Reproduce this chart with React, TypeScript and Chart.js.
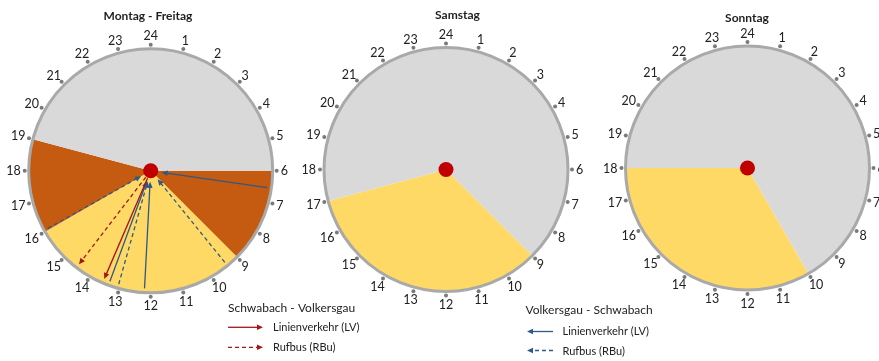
import React, { useEffect, useRef } from "react";
import { Chart, registerables } from "chart.js";

Chart.register(...registerables);

// ---------- data ----------
const hourLabels = ["24", "1", "2", "3", "4", "5", "6", "7", "8", "9", "10", "11", "12", "13", "14", "15", "16", "17", "18", "19", "20", "21", "22", "23"];

// Montag - Freitag: segments starting at 6 o'clock
const mfTitle = "Montag - Freitag";
const mfStartHour = 6;
const mfSegmentHours = [3, 7, 3, 11];
const mfSegmentKinds = ["HVZ", "NVZ", "HVZ", "SVZ"];

// Samstag
const saTitle = "Samstag";
const saStartHour = 9;
const saSegmentHours = [8, 16];
const saSegmentKinds = ["NVZ", "SVZ"];

// Sonntag
const soTitle = "Sonntag";
const soStartHour = 10;
const soSegmentHours = [8, 16];
const soSegmentKinds = ["NVZ", "SVZ"];

// Trips (clock hour at which the arrow meets the rim), Montag - Freitag
const lvOutboundHours = [13.55]; // Schwabach - Volkersgau, Linienverkehr
const rbuOutboundHours = [14.5]; // Schwabach - Volkersgau, Rufbus
const lvInboundHours = [6.55, 12.2, 13.35]; // Volkersgau - Schwabach, Linienverkehr
const rbuInboundHours = [9.4, 13.05, 16.05]; // Volkersgau - Schwabach, Rufbus

const legendHeaders = ["Schwabach - Volkersgau", "Volkersgau - Schwabach"];
const legendItems = ["Linienverkehr (LV)", "Rufbus (RBu)"];

// ---------- styles ----------
const W = 879;
const H = 361;
const FONT = "Lato, 'Open Sans', sans-serif";
const KIND_COLORS: Record<string, string> = { HVZ: "#c55a11", NVZ: "#ffd966", SVZ: "#d9d9d9" };
const RED = "#a3161a";
const BLUE = "#2e5a86";
const RING = "#a9a9a9";
const DOT = "#7a7a7a";
const TEXT = "#222222";

type ClockCfg = {
  title: string;
  startHour: number;
  hours: number[];
  kinds: string[];
  cx: number;
  cy: number;
  titleX: number;
  titleY: number;
  trips: boolean;
  legend: boolean;
};

const clocks: ClockCfg[] = [
  { title: mfTitle, startHour: mfStartHour, hours: mfSegmentHours, kinds: mfSegmentKinds, cx: 150.7, cy: 170.8, titleX: 148, titleY: 16, trips: true, legend: true },
  { title: saTitle, startHour: saStartHour, hours: saSegmentHours, kinds: saSegmentKinds, cx: 446, cy: 169.5, titleX: 457.5, titleY: 15.5, trips: false, legend: false },
  { title: soTitle, startHour: soStartHour, hours: soSegmentHours, kinds: soSegmentKinds, cx: 747.5, cy: 168, titleX: 747, titleY: 18, trips: false, legend: false },
];

function drawArrow(ctx: CanvasRenderingContext2D, x1: number, y1: number, x2: number, y2: number, color: string, dashed: boolean) {
  const len = Math.hypot(x2 - x1, y2 - y1);
  const ux = (x2 - x1) / len;
  const uy = (y2 - y1) / len;
  const headL = 6;
  const headW = 2.8;
  const bx = x2 - ux * headL;
  const by = y2 - uy * headL;
  ctx.save();
  ctx.strokeStyle = color;
  ctx.fillStyle = color;
  ctx.lineWidth = 1.3;
  ctx.setLineDash(dashed ? [4, 3] : []);
  ctx.beginPath();
  ctx.moveTo(x1, y1);
  ctx.lineTo(bx + ux * 1, by + uy * 1);
  ctx.stroke();
  ctx.setLineDash([]);
  ctx.beginPath();
  ctx.moveTo(x2, y2);
  ctx.lineTo(bx - uy * headW, by + ux * headW);
  ctx.lineTo(bx + uy * headW, by - ux * headW);
  ctx.closePath();
  ctx.fill();
  ctx.restore();
}

function makePlugin(cfg: ClockCfg) {
  return {
    id: "clockDecor",
    afterDatasetsDraw(chart: any) {
      const ctx: CanvasRenderingContext2D = chart.ctx;
      const arc: any = chart.getDatasetMeta(0).data[0];
      const { x, y, outerRadius: R } = arc.getProps(["x", "y", "outerRadius"], true);
      ctx.save();

      // rim
      ctx.beginPath();
      ctx.arc(x, y, R, 0, Math.PI * 2);
      ctx.lineWidth = 3;
      ctx.strokeStyle = RING;
      ctx.stroke();

      // hour ticks + labels
      ctx.font = `12.5px ${FONT}`;
      ctx.textAlign = "center";
      ctx.textBaseline = "middle";
      hourLabels.forEach((lab, i) => {
        const a = (i * 15 * Math.PI) / 180;
        const sx = Math.sin(a);
        const sy = -Math.cos(a);
        ctx.beginPath();
        ctx.arc(x + (R + 4) * sx, y + (R + 4) * sy, 2, 0, Math.PI * 2);
        ctx.fillStyle = DOT;
        ctx.fill();
        const w = ctx.measureText(lab).width;
        const h = 10;
        const lx = x + (R + 8) * sx + (w / 2) * sx;
        const ly = y + (R + 8) * sy + (h / 2) * sy;
        ctx.fillStyle = TEXT;
        ctx.fillText(lab, lx, ly + 0.5);
      });

      // title
      ctx.font = `bold 12px ${FONT}`;
      ctx.fillStyle = "#1f1f1f";
      ctx.fillText(cfg.title, cfg.titleX, cfg.titleY);

      // trips
      if (cfg.trips) {
        const outer = R * 0.965;
        const pt = (hour: number, r: number) => {
          const a = (hour * 15 * Math.PI) / 180;
          return [x + r * Math.sin(a), y - r * Math.cos(a)];
        };
        const inbound = (hours: number[], dashed: boolean) =>
          hours.forEach((hr) => {
            const [x1, y1] = pt(hr, outer);
            const [x2, y2] = pt(hr, 11);
            drawArrow(ctx, x1, y1, x2, y2, BLUE, dashed);
          });
        const outbound = (hours: number[], dashed: boolean) =>
          hours.forEach((hr) => {
            const [x1, y1] = pt(hr, 8);
            const [x2, y2] = pt(hr, outer);
            drawArrow(ctx, x1, y1, x2, y2, RED, dashed);
          });
        inbound(rbuInboundHours, true);
        inbound(lvInboundHours, false);
        outbound(rbuOutboundHours, true);
        outbound(lvOutboundHours, false);
      }

      // hub
      ctx.beginPath();
      ctx.arc(x, y, 7.5, 0, Math.PI * 2);
      ctx.fillStyle = "#c00000";
      ctx.fill();

      // legend
      if (cfg.legend) {
        ctx.textAlign = "left";
        ctx.textBaseline = "middle";
        ctx.fillStyle = TEXT;
        ctx.font = `12px ${FONT}`;
        ctx.fillText(legendHeaders[0], 228, 308.5);
        ctx.fillText(legendHeaders[1], 525.5, 310);
        ctx.font = `11px ${FONT}`;
        ctx.fillText(legendItems[0], 273, 327.5);
        ctx.fillText(legendItems[1], 273, 347.5);
        ctx.fillText(legendItems[0], 562.5, 331.5);
        ctx.fillText(legendItems[1], 562.5, 351);
        drawArrow(ctx, 228, 327.3, 263, 327.3, RED, false);
        drawArrow(ctx, 228, 347.3, 263, 347.3, RED, true);
        drawArrow(ctx, 553, 331.5, 527, 331.5, BLUE, false);
        drawArrow(ctx, 553, 350.5, 527, 350.5, BLUE, true);
      }
      ctx.restore();
    },
  };
}

function ClockCanvas({ cfg }: { cfg: ClockCfg }) {
  const ref = useRef<HTMLCanvasElement | null>(null);
  useEffect(() => {
    if (!ref.current) return;
    const half = 130;
    const chart = new Chart(ref.current, {
      type: "pie",
      data: {
        labels: cfg.kinds,
        datasets: [
          {
            data: cfg.hours,
            backgroundColor: cfg.kinds.map((k) => KIND_COLORS[k]),
            borderWidth: 0,
            hoverOffset: 0,
          },
        ],
      },
      options: {
        responsive: false,
        animation: false,
        events: [],
        rotation: cfg.startHour * 15,
        radius: 122,
        layout: {
          padding: {
            left: cfg.cx - half,
            right: W - cfg.cx - half,
            top: cfg.cy - half,
            bottom: H - cfg.cy - half,
          },
        },
        plugins: {
          legend: { display: false },
          tooltip: { enabled: false },
          title: { display: false },
        },
      } as any,
      plugins: [makePlugin(cfg)],
    });
    return () => chart.destroy();
  }, [cfg]);
  return <canvas ref={ref} width={W} height={H} style={{ position: "absolute", left: 0, top: 0, width: W, height: H }} />;
}

export default function App() {
  return (
    <div style={{ position: "fixed", left: 0, top: 0, width: W, height: H, background: "#ffffff", overflow: "hidden" }}>
      {clocks.map((c) => (
        <ClockCanvas key={c.title} cfg={c} />
      ))}
    </div>
  );
}
